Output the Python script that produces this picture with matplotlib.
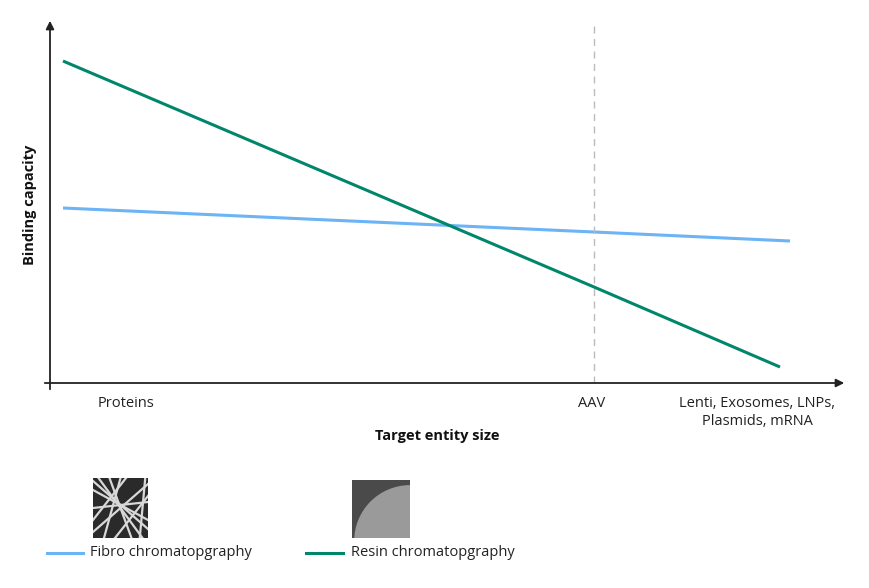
import matplotlib
matplotlib.use("Agg")
import matplotlib.pyplot as plt
import numpy as np

categories = ["Proteins", "AAV", "Lenti, Exosomes, LNPs,\nPlasmids, mRNA"]
cat_x = [13, 544, 740]
fibro_x = [13, 544, 740]
fibro_y = [175, 151, 142]
resin_x = [13, 544, 730]
resin_y = [322, 96, 16]
blue = "#6cb4f5"
green = "#00866b"

plt.rcParams['font.family'] = ['Open Sans', 'DejaVu Sans']
W, H = 870, 588
fig = plt.figure(figsize=(8.7, 5.88), dpi=100)
ax = fig.add_axes([50/W, (H-383)/H, 795/W, 363/H])
ax.set_xlim(0, 795); ax.set_ylim(0, 363)
for s in ax.spines.values(): s.set_visible(False)
ax.set_xticks([]); ax.set_yticks([])
ax.plot(fibro_x, fibro_y, color=blue, lw=2.2, solid_capstyle='butt')
ax.plot(resin_x, resin_y, color=green, lw=2.2, solid_capstyle='butt')
ax.plot([cat_x[1]]*2, [0, 358], color="#bbbbbb", lw=1, ls=(0, (5, 4)))
kw = dict(arrowprops=dict(arrowstyle='-|>', color='#222222', lw=1.3, mutation_scale=12),
          annotation_clip=False)
ax.annotate('', xy=(797, 0), xytext=(-8, 0), **kw)
ax.annotate('', xy=(0, 365), xytext=(0, -9), **kw)

def fx(px): return px / W
def fy(py): return 1 - py / H
for lab, px in zip(categories, [126, 592, 757]):
    fig.text(fx(px), fy(396), lab, ha='center', va='top', fontsize=10.5,
             color='#222222', linespacing=1.3)
fig.text(fx(437), fy(436), "Target entity size", ha='center', va='center',
         fontsize=10.5, fontweight='bold', color='#111111')
fig.text(fx(30), fy(205), "Binding capacity", ha='center', va='center',
         rotation=90, fontsize=10.5, fontweight='bold', color='#111111')

# legend
for x0, x1, c, tx, lab in [(47, 83, blue, 90, "Fibro chromatopgraphy"),
                           (306, 343, green, 351, "Resin chromatopgraphy")]:
    fig.add_artist(plt.Line2D([fx(x0), fx(x1)], [fy(553)]*2, color=c, lw=2.2))
    fig.text(fx(tx), fy(553), lab, va='center', fontsize=10.5, color='#222222')

# thumbnails
a1 = fig.add_axes([fx(93), fy(538), 55/W, 60/H])
a1.set_facecolor('#2a2a2a'); a1.set_xlim(0, 1); a1.set_ylim(0, 1)
for (x0, y0, x1, y1) in [(0,.1,1,.9),(0,.8,1,.3),(.2,0,.5,1),(.7,0,.3,1),(0,.5,1,.6),
                         (.1,1,.9,0),(0,.3,.6,1),(.4,0,1,.7),(.85,0,.95,1),(0,.95,1,.15)]:
    a1.plot([x0, x1], [y0, y1], color='#d8d8d8', lw=1.6)
a1.axis('off'); a1.add_patch(plt.Rectangle((0,0),1,1,color='#2a2a2a',zorder=-1))
a2 = fig.add_axes([fx(352), fy(538), 58/W, 58/H])
a2.set_xlim(0, 1); a2.set_ylim(0, 1); a2.axis('off')
a2.add_patch(plt.Rectangle((0,0),1,1,color='#4a4a4a'))
a2.add_patch(plt.Circle((1.0, -0.05), 0.95, color='#9a9a9a'))
fig.savefig("out.png", dpi=100, facecolor='white')
